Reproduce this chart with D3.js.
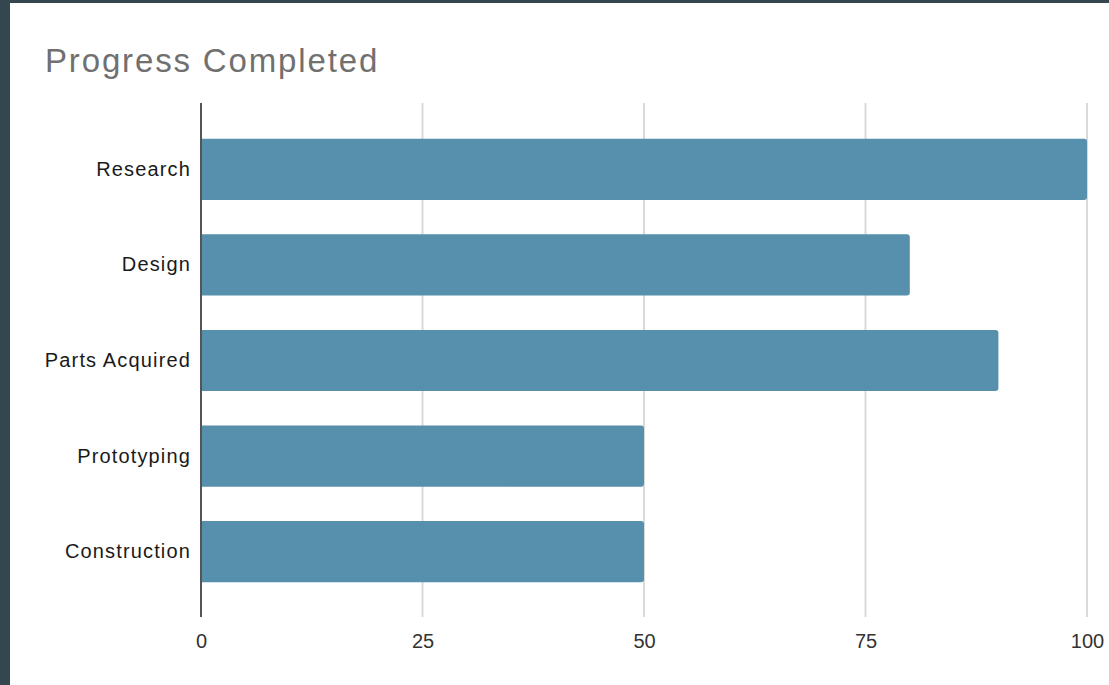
<!DOCTYPE html>
<html><head><meta charset="utf-8">
<script src="https://cdn.jsdelivr.net/npm/d3@7"></script>
<style>
html,body{margin:0;padding:0;background:#34474f;}
svg{display:block;}
</style></head>
<body>
<svg id="chart" width="1109" height="685"></svg>
<script>
const title = "Progress Completed";
const categories = ["Research", "Design", "Parts Acquired", "Prototyping", "Construction"];
const values = [100, 80, 90, 50, 50];
const tickValues = [0, 25, 50, 75, 100];

const svg = d3.select("#chart");
svg.append("rect").attr("x", 10).attr("y", 3).attr("width", 1099).attr("height", 682).attr("fill", "#ffffff");

const x = d3.scaleLinear().domain([0, 100]).range([201, 1087]);
const y = d3.scaleBand().domain(categories).range([121.5, 599.5]).paddingInner(0.36).paddingOuter(0.18);

svg.append("text").attr("x", 45).attr("y", 72).text(title)
  .attr("font-family", "'Liberation Sans', Arial, sans-serif")
  .attr("font-size", 33).attr("letter-spacing", "1.85px").attr("fill", "#707070");

svg.append("g").selectAll("line").data(tickValues.filter(d => d > 0)).join("line")
  .attr("x1", d => x(d)).attr("x2", d => x(d))
  .attr("y1", 103).attr("y2", 617)
  .attr("stroke", "#d9d9d9").attr("stroke-width", 2);

svg.append("g").selectAll("path").data(categories).join("path")
  .attr("d", (c, i) => {
    const x0 = x(0) + 1, x1 = x(values[i]), y0 = y(c), h = y.bandwidth(), r = 3;
    return `M${x0},${y0}H${x1 - r}Q${x1},${y0} ${x1},${y0 + r}V${y0 + h - r}Q${x1},${y0 + h} ${x1 - r},${y0 + h}H${x0}Z`;
  })
  .attr("fill", "#5690ad");

svg.append("line").attr("x1", x(0)).attr("x2", x(0)).attr("y1", 103).attr("y2", 617)
  .attr("stroke", "#555").attr("stroke-width", 2);

const xAxis = svg.append("g").attr("transform", "translate(0,617)")
  .call(d3.axisBottom(x).tickValues(tickValues).tickSize(0).tickPadding(17));
xAxis.select(".domain").remove();
xAxis.selectAll("text").attr("font-family", "'Liberation Sans', Arial, sans-serif")
  .attr("font-size", 20).attr("fill", "#333");

const yAxis = svg.append("g").attr("transform", "translate(191,0)")
  .call(d3.axisLeft(y).tickSize(0).tickPadding(0));
yAxis.select(".domain").remove();
yAxis.selectAll("text").attr("font-family", "'Liberation Sans', Arial, sans-serif")
  .attr("font-size", 20).attr("letter-spacing", "1.15px").attr("fill", "#1a1a1a");
</script>
</body></html>
